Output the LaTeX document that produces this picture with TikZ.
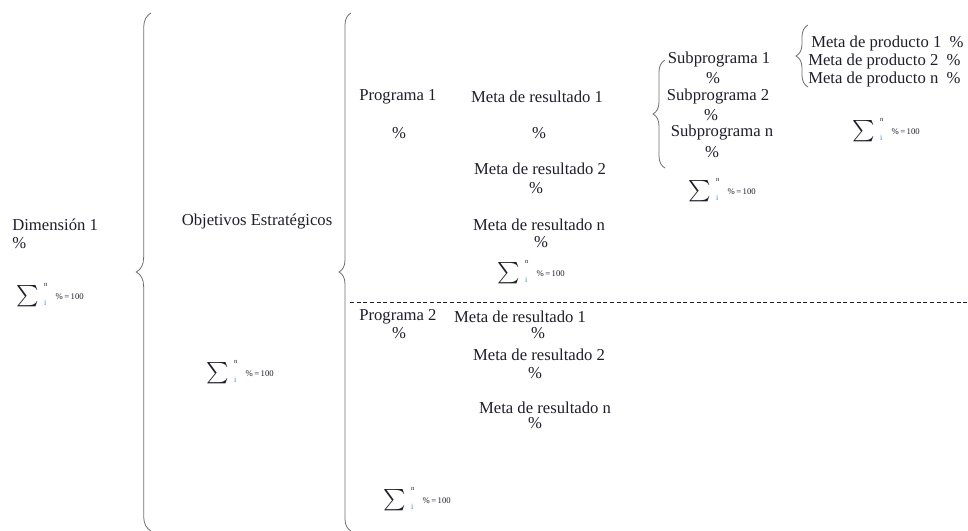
\documentclass[tikz,border=0pt]{standalone}
\usepackage{fontspec}
\setmainfont{Liberation Serif}
\usepackage{tikz}
\usetikzlibrary{decorations.pathreplacing,positioning}
\definecolor{Ink}{HTML}{1E1E2C}
\definecolor{BraceGray}{HTML}{6E6E6E}
\definecolor{SubBlue}{HTML}{2F86D0}
\newcommand{\sumcien}{\scalebox{1.6}{$\sum$}\hspace{4pt}\rlap{\raisebox{11pt}{\fontsize{5}{5}\selectfont n}}\raisebox{-3pt}{\fontsize{6}{6}\selectfont\textcolor{SubBlue}{i}}\hspace{7pt}\raisebox{1.5pt}{\fontsize{6.5}{7}\selectfont\%\,=\,100}}
\tikzset{txt/.style={inner sep=0pt,text=Ink,font=\fontsize{12.5}{14}\selectfont},pct/.style={txt},suma/.style={inner sep=0pt,anchor=west,text=Ink},llave/.style={decorate,decoration={brace,amplitude=#1},draw=BraceGray,line width=.6pt},corte/.style={draw=Ink,dash pattern=on 3pt off 2pt,line width=.5pt}}

\begin{document}
\begin{tikzpicture}[x=0.75pt,y=-0.75pt]
      \useasboundingbox (0,0) rectangle (968,531);
      \node[txt,anchor=west](dim)at(12,225){Dimensión 1};
      \node[pct,anchor=west](dimpct)at(12,243){\%};
      \node[suma](dimsum)at(16,295){\sumcien};
      \coordinate(llaveAbajo)at(151,531);\coordinate(llaveArriba)at(151,13);
      \draw[llave=11pt](llaveAbajo)--(llaveArriba);
      \node[txt](obj)at(257,222){Objetivos Estratégicos};
      \node[suma](objsum)at(206,372){\sumcien};
      \coordinate(llaveBabajo)at(351,531);\coordinate(llaveBarriba)at(351,13);
      \draw[llave=9pt](llaveBabajo)--(llaveBarriba);
      \coordinate(corteIzq)at(350,302);\coordinate(corteDer)at(968,302);
      \draw[corte](corteIzq)--(corteDer);
      \node[txt,anchor=west](prog1)at(359,97){Programa 1};
      \node[pct](prog1pct)at(399,133){\%};
      \node[txt](mr11)at(537,97){Meta de resultado 1};
      \node[pct](mr11pct)at(539,133){\%};
      \node[txt](mr12)at(540,169){Meta de resultado 2};
      \node[pct](mr12pct)at(536,188){\%};
      \node[txt](mr1n)at(539,225){Meta de resultado n};
      \node[pct](mr1npct)at(541,242){\%};
      \node[suma](prog1sum)at(497,272){\sumcien};
      \node[txt,anchor=west](prog2)at(359,317){Programa 2};
      \node[pct](prog2pct)at(399,333){\%};
      \node[txt](mr21)at(520,317){Meta de resultado 1};
      \node[pct](mr21pct)at(538,333){\%};
      \node[txt](mr22)at(539,355){Meta de resultado 2};
      \node[pct](mr22pct)at(535,373){\%};
      \node[txt](mr2n)at(545,408){Meta de resultado n};
      \node[pct](mr2npct)at(535,423){\%};
      \node[suma](prog2sum)at(383,499){\sumcien};
      \coordinate(llaveSabajo)at(665,168);\coordinate(llaveSarriba)at(665,60);
      \draw[llave=9pt](llaveSabajo)--(llaveSarriba);
      \node[txt](sub1)at(719,60){Subprograma 1};
      \node[pct](sub1pct)at(713,78){\%};
      \node[txt](sub2)at(718,97){Subprograma 2};
      \node[pct](sub2pct)at(711,115){\%};
      \node[txt](subn)at(722,133){Subprograma n};
      \node[pct](subnpct)at(712,152){\%};
      \node[suma](subsum)at(688,190){\sumcien};
      \coordinate(llavePabajo)at(808,87);\coordinate(llavePabajoarriba)at(808,25);
      \draw[llave=9pt](llavePabajo)--(llavePabajoarriba);
      \node[txt,anchor=west](mp1)at(811,43){Meta de producto 1\ \ \%};
      \node[txt,anchor=west](mp2)at(808,61){Meta de producto 2\ \ \%};
      \node[txt,anchor=west](mpn)at(808,79){Meta de producto n\ \ \%};
      \node[suma](mpsum)at(852,130){\sumcien};
    \end{tikzpicture}
\end{document}
